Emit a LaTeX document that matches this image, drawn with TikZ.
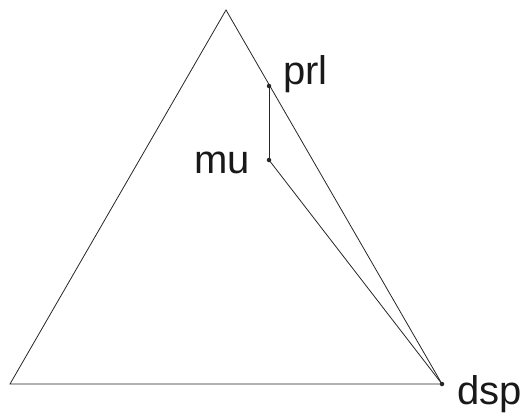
\documentclass[tikz,border=0pt]{standalone}
\usepackage{fontspec}
\setmainfont{Liberation Sans}
\usetikzlibrary{positioning}

\begin{document}
\begin{tikzpicture}[
    x=1pt, y=-1pt,
    edge/.style={line width=0.8pt, black!85},
    pt/.style={circle, fill=black!85, inner sep=0pt, minimum size=4.5pt},
    lbl/.style={inner sep=0pt, anchor=base west, font=\fontsize{40}{48}\selectfont, text=black!90}
]
    \useasboundingbox (0,0) rectangle (525,416);

    % Corners and points
    \coordinate (top) at (226,10);
    \coordinate (left) at (10,384);
    \node[pt] (prl) at (269,86) {};
    \node[pt] (mu) at (269,160) {};
    \node[pt] (dsp) at (442,384) {};

    % Triangle
    \draw[edge] (left) -- (top) -- (dsp.center) -- cycle;

    % Path inside
    \draw[edge] (prl.center) -- (mu.center);
    \draw[edge] (mu.center) -- (dsp.center);

    % Labels
    \node[lbl] (prllbl) at (283,84) {prl};
    \node[lbl] (mulbl) at (194,173) {mu};
    \node[lbl] (dsplbl) at (457,404) {dsp};
\end{tikzpicture}
\end{document}
